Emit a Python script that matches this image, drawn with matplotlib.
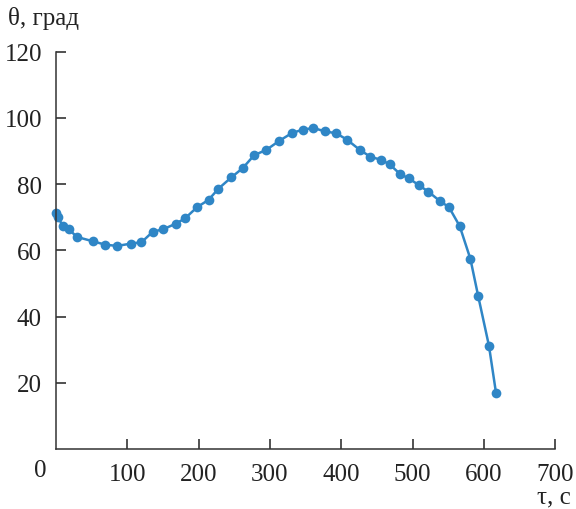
import numpy as np
import matplotlib.pyplot as plt

plt.rcParams['font.family'] = ['Liberation Serif', 'DejaVu Serif']

# time, s
tau = [0, 3, 10, 18, 30, 52, 69, 86, 105, 120, 136, 150, 168, 181, 198, 214,
       228, 246, 262, 278, 295, 313, 331, 346, 361, 377, 393, 408, 426, 441,
       456, 468, 483, 495, 509, 522, 538, 551, 566, 581, 592, 607, 617]
# angle, deg
theta = [71.3, 70.0, 67.3, 66.3, 64.0, 62.7, 61.7, 61.3, 62.0, 62.4, 65.6,
         66.3, 68.0, 69.6, 73.0, 75.2, 78.6, 82.0, 84.8, 88.7, 90.3, 93.0,
         95.4, 96.4, 96.9, 95.9, 95.3, 93.4, 90.3, 88.2, 87.3, 85.9, 82.9,
         81.7, 79.6, 77.7, 74.9, 73.0, 67.3, 57.4, 46.1, 31.2, 16.8]

xticks = [100, 200, 300, 400, 500, 600, 700]
yticks = [20, 40, 60, 80, 100, 120]

color = '#2f86c6'

fig = plt.figure(figsize=(5.76, 5.10), dpi=100)
ax = fig.add_axes([55.8 / 576, 60 / 510, 499.5 / 576, 397.5 / 510])

ax.plot(tau, theta, color=color, linewidth=1.8, marker='o', markersize=7,
        markeredgewidth=0, clip_on=False)

ax.set_xlim(0, 700)
ax.set_ylim(0, 120)
ax.set_xticks(xticks)
ax.set_yticks(yticks)
ax.tick_params(direction='in', length=7, width=1.1, labelsize=18,
               colors='#222222', pad=10)
for s in ['top', 'right']:
    ax.spines[s].set_visible(False)
for s in ['left', 'bottom']:
    ax.spines[s].set_linewidth(1.1)
    ax.spines[s].set_color('#333333')

fig.text(40 / 576, 1 - 471 / 510, '0', fontsize=18, ha='center', va='center',
         color='#222222')
fig.text(8 / 576, 1 - 19 / 510, 'θ, град', fontsize=18, ha='left',
         va='center', color='#222222')
fig.text(571 / 576, 1 - 497 / 510, 'τ, с', fontsize=18, ha='right',
         va='center', color='#222222')

fig.savefig('out.png', dpi=100)
